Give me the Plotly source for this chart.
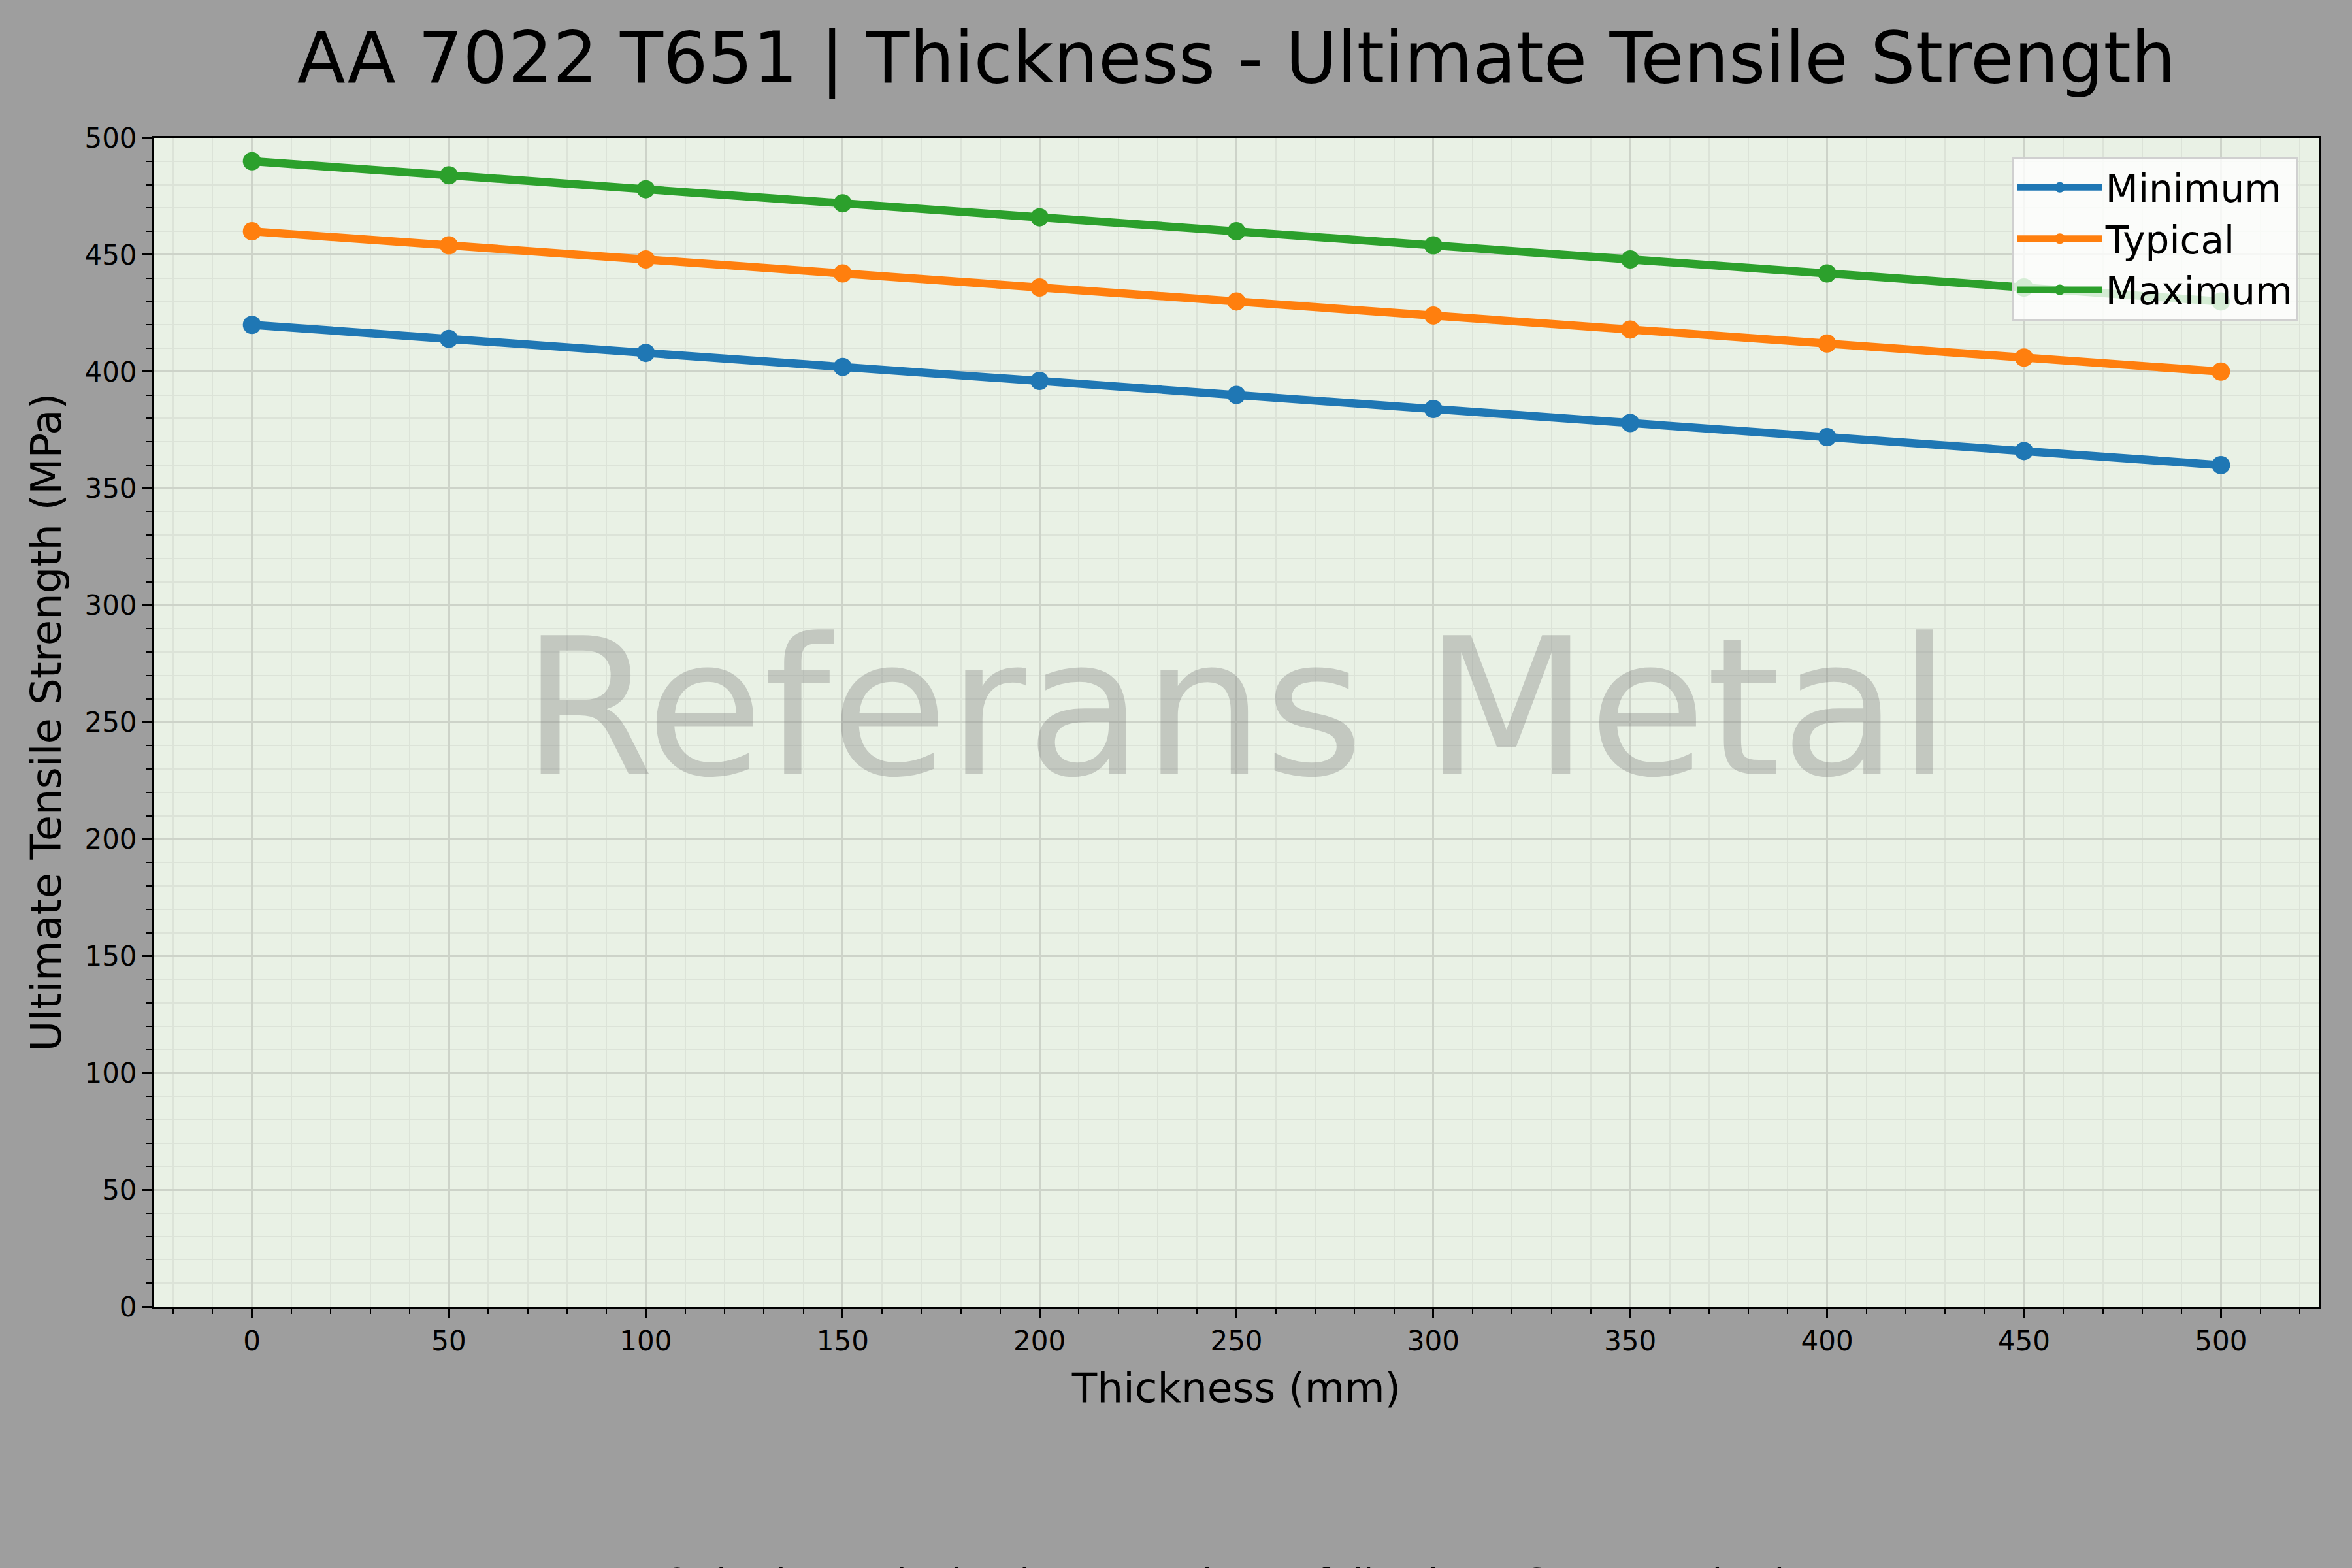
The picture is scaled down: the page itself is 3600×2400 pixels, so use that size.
import plotly.graph_objects as go

# ---- data ----
thickness = [0, 50, 100, 150, 200, 250, 300, 350, 400, 450, 500]
uts_min = [420, 414, 408, 402, 396, 390, 384, 378, 372, 366, 360]
uts_typ = [460, 454, 448, 442, 436, 430, 424, 418, 412, 406, 400]
uts_max = [490, 484, 478, 472, 466, 460, 454, 448, 442, 436, 430]
series_names = ["Minimum", "Typical", "Maximum"]
series_colors = ["#1f77b4", "#ff7f0e", "#2ca02c"]

title_text = "AA 7022 T651 | Thickness - Ultimate Tensile Strength"
x_title = "Thickness (mm)"
y_title = "Ultimate Tensile Strength (MPa)"
watermark = "Referans Metal"
note_text = "Note: Only the typical values are shown following ASTM standards"

FONT = "DejaVu Sans"

fig = go.Figure()
for name, vals, col in zip(series_names, [uts_min, uts_typ, uts_max], series_colors):
    fig.add_trace(go.Scatter(
        x=thickness, y=vals, name=name, mode="lines+markers",
        line=dict(color=col, width=12.5),
        marker=dict(color=col, size=28),
    ))

grid_major = "#cdd3c9"
grid_minor = "#dce3d8"

axis_common = dict(
    showline=True, linecolor="black", linewidth=3, mirror=True,
    ticks="outside", ticklen=14, tickwidth=2.5, tickcolor="black",
    showgrid=True, gridcolor=grid_major, gridwidth=2.5,
    zeroline=False,
    tickfont=dict(family=FONT, size=42, color="black"),
    minor=dict(ticks="outside", ticklen=8, tickwidth=2, tickcolor="black",
               showgrid=True, gridcolor=grid_minor, gridwidth=2, dtick=10),
)

fig.update_layout(
    width=3600, height=2400,
    paper_bgcolor="#9e9e9e",
    plot_bgcolor="#e9f1e5",
    margin=dict(l=235, r=50, t=211, b=400),
    font=dict(family=FONT, color="black"),
    title=dict(text=title_text, x=0.5, xref="paper", xanchor="center",
               y=1 - 50 / 2400, yref="container", yanchor="top",
               font=dict(family=FONT, size=108, color="black")),
    xaxis=dict(range=[-25, 525], dtick=50, tick0=0,
               title=dict(text=x_title, font=dict(family=FONT, size=63), standoff=26),
               **axis_common),
    yaxis=dict(range=[0, 500], dtick=50, tick0=0,
               title=dict(text=y_title, font=dict(family=FONT, size=64), standoff=16),
               **axis_common),
    legend=dict(x=0.99, y=0.984, xanchor="right", yanchor="top",
                bgcolor="rgba(255,255,255,0.8)", bordercolor="#d0d0d0", borderwidth=3,
                font=dict(family=FONT, size=58, color="black"),
                itemwidth=130),
    showlegend=True,
)

fig.add_annotation(text=watermark, xref="paper", yref="paper", x=0.5, y=0.512,
                   xanchor="center", yanchor="middle", showarrow=False,
                   font=dict(family=FONT, size=292, color="rgba(128,128,128,0.36)"))

fig.add_annotation(text=note_text, xref="paper", yref="paper",
                   x=(1800 - 235) / 3315, y=(2000 - 2423) / 1789,
                   xanchor="center", yanchor="middle", showarrow=False,
                   font=dict(family=FONT, size=58, color="black"))

fig.write_html("out.html", config={"displayModeBar": False},
               post_script="document.body.style.margin='0';")
